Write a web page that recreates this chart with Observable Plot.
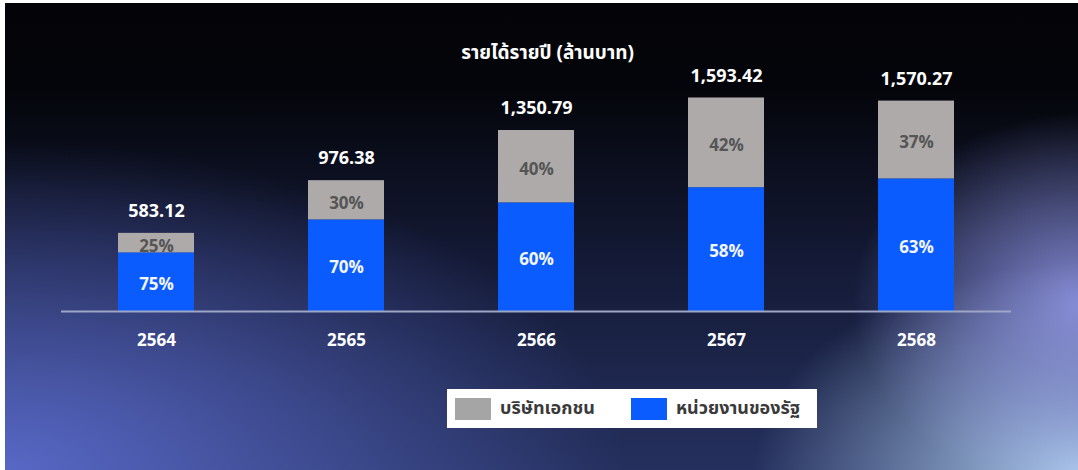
<!DOCTYPE html>
<html>
<head>
<meta charset="utf-8">
<script src="https://cdn.jsdelivr.net/npm/d3@7"></script>
<script src="https://cdn.jsdelivr.net/npm/@observablehq/plot@0.6"></script>
<style>
  html, body { margin: 0; padding: 0; background: #fff; width: 1078px; height: 470px; overflow: hidden; }
  body { position: relative; font-family: Tahoma, "Noto Sans Thai", "DejaVu Sans", "Noto Sans", sans-serif; }
  #bg {
    position: absolute; left: 5px; top: 3px; width: 1073px; height: 467px;
    background:
      radial-gradient(ellipse 230px 190px at 1078px 300px, rgba(150,155,235,0.85), rgba(150,155,235,0) 100%),
      radial-gradient(ellipse 330px 210px at 1078px 470px, rgba(172,202,235,1), rgba(172,202,235,0) 100%),
      radial-gradient(ellipse 620px 330px at 0px 470px, rgba(88,104,198,1), rgba(88,104,198,0) 100%),
      linear-gradient(to bottom, #040408 0%, #04050a 18%, #141a36 55%, #25305e 100%);
  }
  #chart { position: absolute; left: 0; top: 0; }
  #title {
    position: absolute; left: 0; width: 1095px; top: 39px; text-align: center;
    color: #fff; font-weight: bold; font-size: 19px;
  }
  #legend {
    position: absolute; left: 447px; top: 389px; width: 370px; height: 39px;
    background: #fff; display: flex; align-items: center; box-sizing: border-box; padding-left: 8px;
    font-weight: bold; font-size: 18px; color: #3a3a3a;
  }
  .sw { width: 36px; height: 22px; display: inline-block; margin-right: 9px; }
</style>
</head>
<body>
<div id="bg"></div>
<div id="chart"></div>
<div id="title">รายได้รายปี (ล้านบาท)</div>
<div id="legend"></div>
<script>
const years = ["2564", "2565", "2566", "2567", "2568"];
const totals = [583.12, 976.38, 1350.79, 1593.42, 1570.27];
const govPct = [75, 70, 60, 58, 63];
const privPct = [25, 30, 40, 42, 37];
const seriesNames = ["หน่วยงานของรัฐ", "บริษัทเอกชน"];
const seriesColors = ["#0B5CFF", "#AEAAAA"];
const legendOrder = ["บริษัทเอกชน", "หน่วยงานของรัฐ"];
const legendColors = ["#A5A5A5", "#0B5CFF"];

const rows = [];
years.forEach((yr, i) => {
  rows.push({year: yr, series: seriesNames[0], pct: govPct[i], value: totals[i] * govPct[i] / 100});
  rows.push({year: yr, series: seriesNames[1], pct: privPct[i], value: totals[i] * privPct[i] / 100});
});
const totalRows = years.map((yr, i) => ({year: yr, total: totals[i]}));
const fmt = d3.format(",.2f");
const font = 'Tahoma, "Noto Sans Thai", "DejaVu Sans", sans-serif';

const chart = Plot.plot({
  width: 1078,
  height: 470,
  marginLeft: 61,
  marginRight: 67,
  marginTop: 43,
  marginBottom: 159,
  style: {background: "transparent", fontFamily: font, overflow: "visible"},
  x: {domain: years, paddingInner: 0.6, paddingOuter: 0.3, axis: null},
  y: {domain: [0, 2000], axis: null},
  color: {domain: seriesNames, range: seriesColors},
  marks: [
    Plot.barY(rows, {x: "year", y: "value", fill: "series", order: seriesNames}),
    Plot.ruleY([0], {stroke: "#9ea6c6", strokeWidth: 2}),
    Plot.text(rows, Plot.stackY({
      x: "year", y: "value", z: "series", order: seriesNames,
      text: d => d.series === seriesNames[0] ? d.pct + "%" : "",
      fill: "#f4f6ff", fontSize: 17, fontWeight: "bold", dy: 2
    })),
    Plot.text(rows, Plot.stackY({
      x: "year", y: "value", z: "series", order: seriesNames,
      text: d => d.series === seriesNames[1] ? d.pct + "%" : "",
      fill: "#555555", fontSize: 17, fontWeight: "bold", dy: 3
    })),
    Plot.text(totalRows, {
      x: "year", y: "total", text: d => fmt(d.total),
      fill: "#ffffff", fontSize: 18, fontWeight: "bold", dy: -22
    }),
    Plot.text(years, {
      x: d => d, y: () => 0, text: d => d,
      fill: "#ffffff", fontSize: 17, fontWeight: "bold", dy: 29
    })
  ]
});
document.getElementById("chart").appendChild(chart);

const legend = document.getElementById("legend");
legendOrder.forEach((name, i) => {
  const item = document.createElement("span");
  item.style.display = "inline-flex";
  item.style.alignItems = "center";
  item.style.marginRight = i === 0 ? "36px" : "0";
  const sw = document.createElement("span");
  sw.className = "sw";
  sw.style.background = legendColors[i];
  const lab = document.createElement("span");
  lab.textContent = name;
  item.appendChild(sw);
  item.appendChild(lab);
  legend.appendChild(item);
});
</script>
</body>
</html>
